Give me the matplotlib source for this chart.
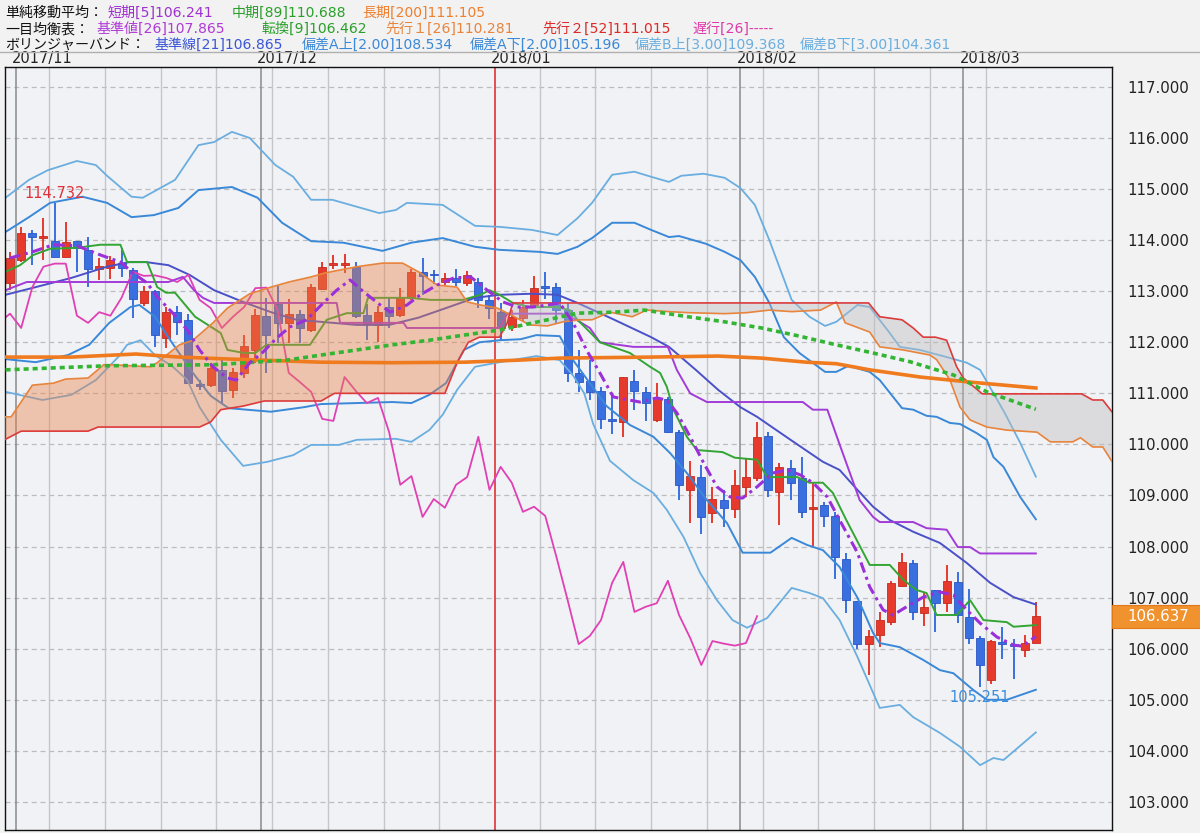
import numpy as np
import matplotlib
matplotlib.use('Agg')
import matplotlib.pyplot as plt
import matplotlib.transforms as mtransforms
from matplotlib.patches import Rectangle

plt.rcParams['font.family'] = ['Noto Sans CJK JP', 'DejaVu Sans']

# ---- daily candles, index 0 = 2017/10/31 ... index 92 = 2018/03/09
opens = [113.16, 113.61, 114.14, 114.05, 113.98, 113.67, 113.98, 113.81, 113.44, 113.46,
         113.55, 113.42, 112.77, 113.00, 112.09, 112.59, 112.44, 111.18, 111.16, 111.46,
         111.07, 111.40, 111.85, 112.52, 112.75, 112.38, 112.56, 112.24, 113.04, 113.51,
         113.51, 113.48, 112.54, 112.34, 112.69, 112.54, 112.87, 113.38, 113.33, 113.18,
         113.26, 113.16, 113.18, 112.83, 112.59, 112.30, 112.48, 112.73, 113.09, 113.08,
         112.63, 111.40, 111.24, 111.05, 110.50, 110.44, 111.24, 111.03, 110.48, 110.89,
         110.24, 109.11, 109.36, 108.66, 108.91, 108.74, 109.17, 109.34, 110.17, 109.07,
         109.54, 109.34, 108.74, 108.81, 108.60, 107.76, 106.93, 106.09, 106.27, 106.52,
         107.23, 107.68, 106.70, 107.15, 106.89, 107.31, 106.62, 106.21, 105.39, 106.12,
         106.09, 105.97, 106.11]
highs = [113.77, 114.26, 114.20, 114.43, 114.732, 114.36, 113.98, 114.06, 113.65, 113.69,
         113.85, 113.46, 113.10, 113.02, 112.69, 112.71, 112.55, 111.26, 111.60, 111.65,
         111.50, 112.14, 112.65, 112.87, 113.10, 112.85, 112.63, 113.14, 113.57, 113.71,
         113.73, 113.57, 112.75, 112.71, 112.87, 113.06, 113.44, 113.65, 113.42, 113.36,
         113.44, 113.40, 113.26, 112.93, 112.77, 112.63, 112.83, 113.30, 113.38, 113.16,
         112.77, 111.85, 111.65, 111.13, 111.00, 111.32, 111.46, 111.13, 111.20, 110.93,
         110.28, 109.68, 109.60, 109.17, 109.11, 109.50, 109.72, 110.44, 110.24, 109.64,
         109.70, 109.76, 109.27, 108.87, 108.68, 107.87, 106.94, 106.37, 106.72, 107.33,
         107.87, 107.74, 107.09, 107.15, 107.64, 107.50, 107.17, 106.25, 106.17, 106.43,
         106.19, 106.27, 106.92]
lows = [113.03, 113.57, 113.51, 113.61, 113.67, 113.67, 113.38, 113.08, 113.22, 113.24,
        113.28, 112.48, 112.71, 111.91, 111.89, 112.14, 111.18, 111.07, 111.13, 110.81,
        110.91, 111.30, 111.60, 111.40, 111.99, 111.99, 111.99, 112.20, 113.02, 113.44,
        113.36, 112.48, 112.04, 112.00, 112.28, 112.50, 112.83, 112.93, 113.14, 113.12,
        113.10, 113.10, 112.67, 112.46, 112.04, 112.22, 112.40, 112.71, 112.85, 112.38,
        111.22, 111.03, 110.87, 110.30, 110.20, 110.15, 110.68, 110.46, 110.44, 110.22,
        108.91, 108.46, 108.25, 108.46, 108.38, 108.56, 108.97, 109.28, 108.97, 108.42,
        108.91, 108.56, 108.00, 108.38, 107.37, 106.70, 106.00, 105.49, 106.03, 106.46,
        107.21, 106.56, 106.45, 106.33, 106.72, 106.50, 106.09, 105.251, 105.31, 105.80,
        105.41, 105.84, 106.11]
closes = [113.65, 114.14, 114.06, 114.07, 113.67, 113.96, 113.84, 113.44, 113.49, 113.61,
          113.46, 112.85, 113.00, 112.14, 112.59, 112.40, 111.20, 111.15, 111.50, 111.05,
          111.42, 111.93, 112.54, 112.14, 112.38, 112.56, 112.28, 113.08, 113.48, 113.54,
          113.54, 112.52, 112.38, 112.59, 112.52, 112.87, 113.38, 113.30, 113.31, 113.26,
          113.18, 113.32, 112.83, 112.67, 112.28, 112.50, 112.69, 113.06, 113.07, 112.63,
          111.40, 111.22, 111.03, 110.50, 110.46, 111.32, 111.05, 110.81, 110.91, 110.24,
          109.21, 109.38, 108.58, 108.93, 108.76, 109.21, 109.36, 110.15, 109.11, 109.56,
          109.25, 108.68, 108.78, 108.60, 107.80, 106.96, 106.09, 106.25, 106.56, 107.29,
          107.70, 106.72, 106.82, 106.89, 107.33, 106.66, 106.21, 105.68, 106.15, 106.10,
          106.06, 106.11, 106.637]

month_labels = ['2017/11', '2017/12', '2018/01', '2018/02', '2018/03']
month_pos = [0.5, 22.5, 43.5, 65.5, 85.5]
week_pos = [3.5, 8.5, 13.5, 18.5, 23.5, 28.5, 33.5, 38.5, 47.5, 52.5, 57.5, 62.5,
            67.5, 72.5, 77.5, 82.5, 87.5]
price_ticks = [103, 104, 105, 106, 107, 108, 109, 110, 111, 112, 113, 114, 115, 116, 117]
chikou_shift = 25

# ---- indicator lines (x = candle index)
sma5_x = [0, 2, 3.9, 6, 8.1, 9.9, 11, 12.3, 13.2, 14.6, 15.9, 17, 18.2, 19.5, 20.3, 21.5,
          22.7, 23.9, 25.1, 26.6, 28.1, 29.3, 30.5, 31.7, 33.2, 34.1, 35.6, 36.8, 38.3,
          39.8, 41.3, 42.8, 44.2, 45.5, 46.9, 48.2, 49.3, 50.5, 51.7, 52.9, 54.1, 55,
          56.5, 58, 58.9, 59.8, 61, 62.2, 63.4, 64.6, 65.7, 67, 68.4, 69.7, 70.9, 72,
          73.3, 74.4, 76, 77.1, 78.3, 79.2, 80.4, 81.9, 83.4, 84.6, 85.8, 87, 88.5, 90,
          90.8, 92]
sma5_y = [113.65, 113.77, 113.91, 113.89, 113.71, 113.57, 113.36, 113.16, 112.89, 112.57,
          112.24, 111.85, 111.52, 111.30, 111.26, 111.60, 111.81, 112.08, 112.30, 112.44,
          112.77, 113.02, 113.22, 112.99, 112.73, 112.59, 112.73, 112.93, 113.12, 113.26,
          113.28, 113.02, 112.79, 112.69, 112.69, 112.73, 112.77, 112.38, 111.85, 111.40,
          110.93, 110.89, 110.83, 110.91, 110.87, 110.62, 110.15, 109.64, 109.17, 108.97,
          108.95, 109.17, 109.44, 109.50, 109.40, 109.25, 108.97, 108.52, 107.88, 107.21,
          106.76, 106.66, 106.82, 107.01, 107.11, 107.05, 106.76, 106.50, 106.23, 106.07,
          106.05, 106.241]

sma89_x = [-0.4, 8.7, 18.3, 24.8, 27.9, 31.1, 34.3, 37.6, 40.7, 43.9, 48.2, 50.9, 54.2,
           56.9, 60.8, 64.1, 67.4, 70.8, 74.1, 77.4, 80.7, 84.6, 87.6, 92]
sma89_y = [111.46, 111.54, 111.56, 111.65, 111.75, 111.85, 111.95, 112.04, 112.14, 112.24,
           112.44, 112.57, 112.59, 112.63, 112.50, 112.40, 112.28, 112.12, 111.95, 111.79,
           111.62, 111.36, 111.03, 110.688]

sma200_x = [-0.4, 5.5, 11.3, 15.2, 19.9, 27.9, 34.3, 40.7, 45.6, 49.3, 57.5, 63.5, 67.4,
            71.4, 74.1, 77.1, 81.6, 86.1, 92]
sma200_y = [111.71, 111.71, 111.77, 111.71, 111.67, 111.61, 111.60, 111.61, 111.65, 111.69,
            111.71, 111.73, 111.69, 111.61, 111.58, 111.46, 111.32, 111.22, 111.105]

kijun_x = [-0.4, 1.5, 14.2, 15.5, 16.5, 17.3, 18.3, 29.3, 29.6, 35.3, 35.6, 43.9, 44.6,
           49.5, 50.8, 52.0, 52.9, 55.9, 59.0, 59.8, 61.0, 62.5, 71.1, 72.0, 73.3, 74.4,
           76.2, 77.4, 78.0, 81.0, 82.2, 84.0, 85.0, 86.1, 87.0, 92]
kijun_y = [113.02, 113.18, 113.18, 113.28, 113.02, 112.87, 112.77, 112.77, 112.38, 112.38,
           112.28, 112.28, 112.56, 112.56, 112.44, 112.28, 112.00, 111.91, 111.91, 111.46,
           111.00, 110.83, 110.83, 110.68, 110.68, 110.00, 108.91, 108.58, 108.48, 108.48,
           108.36, 108.33, 107.99, 107.99, 107.865, 107.865]

tenkan_x = [-0.4, 0.9, 2.1, 3.6, 6.0, 8.1, 9.9, 10.5, 12.3, 13.2, 14.0, 14.8, 16.6, 18.9,
            19.5, 21.0, 22.0, 23.0, 26.9, 28.4, 30.2, 31.7, 32.1, 35.9, 37.7, 40.6, 42.2,
            43.0, 43.9, 45.1, 46.6, 49.0, 50.2, 50.9, 52.0, 52.9, 55.6, 57.4, 58.3, 58.9,
            59.5, 60.7, 61.6, 63.9, 65.0, 67.0, 67.9, 70.6, 71.7, 72.9, 73.8, 75.0, 77.1,
            78.9, 80.1, 81.3, 82.2, 83.1, 84.9, 86.1, 87.3, 89.4, 90.0, 92]
tenkan_y = [113.38, 113.51, 113.71, 113.83, 113.85, 113.91, 113.91, 113.57, 113.57, 113.08,
            112.97, 112.97, 112.50, 112.18, 111.85, 111.79, 111.79, 111.95, 111.95, 112.44,
            112.57, 112.57, 112.87, 112.87, 112.83, 112.83, 112.93, 113.02, 112.93, 112.77,
            112.69, 112.69, 112.63, 112.44, 112.20, 112.00, 111.79, 111.52, 111.40, 111.13,
            110.68, 110.15, 109.89, 109.85, 109.74, 109.70, 109.36, 109.36, 109.25, 109.25,
            109.05, 108.52, 107.64, 107.64, 107.35, 107.15, 107.09, 106.66, 106.66, 106.95,
            106.56, 106.52, 106.43, 106.462]

spanA_x = [-0.5, 0.1, 2.0, 3.9, 5.0, 7.0, 8.4, 9.1, 12.6, 13.2, 13.8, 15.2, 16.4, 18.2,
           19.5, 21.5, 23.4, 25.0, 27.0, 28.3, 31.1, 33.4, 35.2, 36.8, 38.3, 40.1, 41.0,
           42.2, 43.7, 44.8, 46.6, 48.2, 49.6, 51.1, 52.2, 53.8, 55.8, 57.1, 59.1, 60.8,
           64.1, 66.1, 68.1, 70.1, 72.7, 74.1, 74.9, 77.1, 78.0, 80.1, 82.5, 83.1, 84.3,
           85.2, 86.1, 87.6, 89.4, 92.1, 93.3, 95.3, 96.0, 97.1, 98.0, 99.6]
spanA_y = [110.54, 110.54, 111.16, 111.20, 111.28, 111.30, 111.56, 111.56, 111.52, 111.60,
           111.71, 111.95, 112.04, 112.38, 112.67, 112.95, 113.08, 113.18, 113.28, 113.36,
           113.48, 113.55, 113.55, 113.36, 113.12, 113.08, 112.79, 112.73, 112.67, 112.55,
           112.34, 112.32, 112.40, 112.44, 112.44, 112.59, 112.50, 112.63, 112.60, 112.58,
           112.56, 112.58, 112.63, 112.60, 112.63, 112.79, 112.38, 112.20, 111.91, 111.85,
           111.75, 111.66, 111.26, 110.73, 110.48, 110.34, 110.28, 110.24, 110.05, 110.05,
           110.13, 109.95, 109.95, 109.40]

spanB_x = [-0.5, 1.0, 7.0, 7.9, 17.0, 18.0, 18.9, 20.9, 22.8, 27.9, 29.1, 39.0, 40.1, 41.1,
           42.1, 43.9, 44.6, 44.8, 45.1, 77.0, 78.0, 80.0, 81.0, 81.9, 83.0, 84.0, 84.9,
           85.5, 87.2, 96.1, 97.1, 98.0, 99.6]
spanB_y = [110.09, 110.26, 110.26, 110.34, 110.34, 110.44, 110.68, 110.75, 110.85, 110.85,
           111.00, 111.00, 111.60, 112.00, 112.10, 112.10, 112.38, 112.55, 112.77, 112.77,
           112.50, 112.44, 112.28, 112.10, 112.10, 112.04, 111.52, 111.30, 110.99, 110.99,
           110.87, 110.87, 110.42]
cloud_cross = 44.8

bb_mid_x = [-0.4, 2.3, 5.5, 8.7, 10.7, 12.2, 14.2, 16.1, 18.3, 20.9, 23.4, 25.7, 27.9, 31.1,
            34.0, 36.6, 39.1, 41.7, 43.9, 46.8, 49.1, 50.9, 54.2, 57.5, 59.1, 61.5, 63.5,
            65.5, 67.0, 70.0, 72.9, 74.4, 76.0, 77.4, 78.9, 81.0, 83.4, 85.8, 87.9, 90.0, 92]
bb_mid_y = [112.93, 113.08, 113.26, 113.48, 113.57, 113.57, 113.51, 113.32, 113.02, 112.79,
            112.59, 112.44, 112.40, 112.34, 112.34, 112.48, 112.67, 112.87, 112.93, 112.95,
            112.93, 112.77, 112.44, 112.10, 111.91, 111.46, 111.07, 110.73, 110.54, 110.09,
            109.66, 109.50, 109.11, 108.78, 108.52, 108.29, 108.07, 107.68, 107.29, 107.01,
            106.865]

bb_up2_x = [-0.4, 1.7, 3.6, 6.5, 8.7, 10.9, 12.9, 15.1, 16.9, 19.9, 22.2, 24.4, 27.0, 29.9,
            33.4, 36.0, 38.8, 41.7, 43.9, 47.5, 49.1, 50.9, 52.2, 54.0, 56.0, 57.5, 59.1,
            60.0, 62.4, 64.1, 65.5, 66.8, 68.1, 69.4, 70.8, 73.1, 74.1, 75.2, 77.1, 78.0,
            80.0, 81.0, 82.2, 83.1, 84.3, 85.2, 86.7, 87.6, 88.2, 89.1, 90.6, 92]
bb_up2_y = [114.16, 114.45, 114.73, 114.85, 114.73, 114.45, 114.49, 114.63, 114.98, 115.04,
            114.83, 114.34, 113.98, 113.95, 113.79, 113.95, 114.04, 113.87, 113.81, 113.77,
            113.73, 113.87, 114.04, 114.34, 114.34, 114.20, 114.06, 114.08, 113.93, 113.77,
            113.61, 113.28, 112.77, 112.10, 111.79, 111.42, 111.42, 111.54, 111.42, 111.26,
            110.71, 110.68, 110.56, 110.54, 110.42, 110.40, 110.22, 110.09, 109.75, 109.56,
            108.97, 108.534]

bb_up3_x = [-0.4, 1.7, 3.4, 6.0, 7.7, 8.7, 10.9, 11.9, 14.8, 16.9, 18.3, 19.9, 21.5, 23.8,
            25.4, 27.0, 28.9, 33.1, 34.6, 35.6, 38.8, 41.7, 43.9, 46.8, 49.1, 50.9, 52.2,
            54.0, 56.0, 57.5, 59.1, 60.2, 62.2, 64.1, 65.5, 66.8, 68.1, 70.1, 71.7, 73.1,
            74.1, 76.0, 77.1, 78.9, 79.8, 81.6, 84.0, 85.8, 87.0, 88.2, 89.2, 90.6, 92]
bb_up3_y = [114.83, 115.18, 115.37, 115.55, 115.47, 115.26, 114.85, 114.83, 115.18, 115.86,
            115.92, 116.12, 116.00, 115.47, 115.24, 114.79, 114.79, 114.53, 114.59, 114.73,
            114.69, 114.28, 114.26, 114.20, 114.10, 114.43, 114.73, 115.28, 115.34, 115.24,
            115.14, 115.26, 115.30, 115.22, 115.02, 114.69, 114.00, 112.83, 112.50, 112.32,
            112.40, 112.73, 112.69, 112.18, 111.91, 111.85, 111.71, 111.60, 111.46, 111.00,
            110.62, 110.03, 109.368]

bb_dn2_x = [-0.4, 2.3, 5.2, 7.1, 8.9, 10.8, 11.6, 13.0, 14.5, 16.4, 18.0, 19.6, 23.4, 26.4,
            27.9, 31.1, 34.3, 36.0, 37.6, 39.1, 40.7, 42.1, 43.9, 45.8, 47.2, 49.3, 50.5,
            52.0, 53.5, 55.6, 57.7, 59.2, 60.7, 62.5, 64.3, 65.7, 67.3, 68.2, 70.1, 71.5,
            72.9, 74.4, 76.0, 77.4, 78.0, 79.8, 81.9, 83.4, 84.6, 86.4, 87.6, 89.4, 92]
bb_dn2_y = [111.67, 111.61, 111.75, 111.95, 112.38, 112.69, 112.73, 112.50, 112.00, 111.40,
            110.95, 110.71, 110.64, 110.73, 110.79, 110.81, 110.83, 110.81, 110.97, 111.20,
            111.85, 112.00, 112.04, 112.06, 112.14, 112.12, 111.65, 111.20, 110.75, 110.38,
            110.15, 109.83, 109.44, 108.91, 108.46, 107.88, 107.88, 107.88, 108.17, 108.03,
            107.93, 107.60, 107.00, 106.31, 106.11, 106.03, 105.78, 105.58, 105.52, 105.19,
            105.00, 105.00, 105.196]

bb_dn3_x = [-0.4, 2.9, 5.5, 7.7, 9.7, 10.5, 11.7, 13.0, 14.6, 15.9, 17.0, 18.9, 20.9, 23.1,
            25.4, 27.0, 29.5, 31.1, 34.6, 36.0, 37.6, 38.8, 40.1, 41.7, 43.9, 47.2, 49.3,
            50.5, 51.5, 52.3, 53.8, 55.9, 57.7, 58.9, 60.4, 61.9, 63.4, 64.8, 66.1, 67.9,
            70.1, 71.7, 72.9, 74.4, 76.0, 78.0, 79.8, 81.0, 83.4, 85.2, 87.0, 88.2, 89.1, 92]
bb_dn3_y = [111.03, 110.87, 110.97, 111.26, 111.71, 111.95, 112.04, 111.75, 111.52, 111.26,
            110.73, 110.09, 109.58, 109.66, 109.79, 109.99, 109.99, 110.09, 110.11, 110.05,
            110.28, 110.58, 111.07, 111.52, 111.61, 111.73, 111.65, 111.35, 111.00, 110.40,
            109.68, 109.30, 109.05, 108.72, 108.19, 107.48, 106.95, 106.56, 106.41, 106.60,
            107.19, 107.09, 106.99, 106.56, 105.84, 104.84, 104.90, 104.66, 104.35, 104.08,
            103.72, 103.86, 103.82, 104.361]

header_rows = [
    [(5, '単純移動平均：', '#111111'), (108, '短期[5]106.241', '#a030d0'),
     (232, '中期[89]110.688', '#2aa02a'), (362, '長期[200]111.105', '#ee8030')],
    [(5, '一目均衡表：', '#111111'), (97, '基準値[26]107.865', '#b03ad6'),
     (262, '転換[9]106.462', '#2aa02a'), (385, '先行１[26]110.281', '#e8843c'),
     (542, '先行２[52]111.015', '#dd2a2a'), (692, '遅行[26]-----', '#dd3aaa')],
    [(5, 'ボリンジャーバンド：', '#111111'), (155, '基準線[21]106.865', '#3a55d8'),
     (302, '偏差A上[2.00]108.534', '#3a88d8'), (470, '偏差A下[2.00]105.196', '#3a88d8'),
     (635, '偏差B上[3.00]109.368', '#6aaee0'), (800, '偏差B下[3.00]104.361', '#6aaee0')],
]

RED = '#e63a2c'
BLUE = '#3a6fe0'

W, H = 1200, 833
fig = plt.figure(figsize=(W / 100, H / 100), dpi=100, facecolor='#f2f2f2')
ax = fig.add_axes([5 / W, 3 / H, 1107 / W, 763 / H])
ax.set_facecolor('#f1f2f6')
ax.set_xlim(-0.45, 98.83)
ax.set_ylim(102.45, 117.39)

# grid
for p in price_ticks:
    ax.axhline(p, color='#bcbcbc', lw=0.9, ls=(0, (4, 3)), zorder=0.5)
for wp in week_pos:
    ax.axvline(wp, color='#c6c6ca', lw=1.0, zorder=0.6)
for mp, ml in zip(month_pos, month_labels):
    ax.axvline(mp, color='#dd2222' if ml.endswith('/01') else '#8a8a8a', lw=1.1, zorder=0.7)

# candles
o = np.array(opens)
c = np.array(closes)
h = np.array(highs)
l = np.array(lows)
idx = np.arange(len(c))
cols = np.where(c >= o, RED, BLUE)
edges = np.where(c >= o, '#c42a1e', '#2a56c4')
ax.vlines(idx, l, h, colors=cols, lw=1.4, zorder=2)
ax.bar(idx, np.maximum(np.abs(c - o), 0.035), bottom=np.minimum(o, c), width=0.72,
       color=cols, edgecolor=edges, lw=0.6, zorder=2.1)

# lines under the cloud
ax.plot(bb_up3_x, bb_up3_y, color='#6aaee0', lw=1.3, zorder=2.3)
ax.plot(bb_dn3_x, bb_dn3_y, color='#6aaee0', lw=1.3, zorder=2.3)
ax.plot(bb_up2_x, bb_up2_y, color='#3a88d8', lw=1.4, zorder=2.3)
ax.plot(bb_dn2_x, bb_dn2_y, color='#3a88d8', lw=1.4, zorder=2.3)
ax.plot(bb_mid_x, bb_mid_y, color='#4a50c8', lw=1.4, zorder=2.3)
ax.plot(idx - chikou_shift, c, color='#e040b4', lw=1.3, zorder=2.3)
ax.plot(kijun_x, kijun_y, color='#a23bd8', lw=1.4, zorder=2.4)
ax.plot(tenkan_x, tenkan_y, color='#33a533', lw=1.4, zorder=2.4)

# cloud
ax_ = np.array(spanA_x)
ay_ = np.array(spanA_y)
bx_ = np.array(spanB_x)
by_ = np.array(spanB_y)
ma, mb = ax_ <= cloud_cross, bx_ <= cloud_cross
ax.fill(np.r_[ax_[ma], bx_[mb][::-1]], np.r_[ay_[ma], by_[mb][::-1]],
        color='#e8834a', alpha=0.42, lw=0, zorder=3)
ma, mb = ax_ >= cloud_cross, bx_ >= cloud_cross
ax.fill(np.r_[ax_[ma], bx_[mb][::-1]], np.r_[ay_[ma], by_[mb][::-1]],
        color='#bdbdbd', alpha=0.42, lw=0, zorder=3)
ax.plot(spanA_x, spanA_y, color='#e8843c', lw=1.2, zorder=3.2)
ax.plot(spanB_x, spanB_y, color='#dd3a3a', lw=1.2, zorder=3.2)

# moving averages on top
ax.plot(sma200_x, sma200_y, color='#f07a1e', lw=2.6, zorder=4)
ax.plot(sma89_x, sma89_y, color='#33b533', lw=2.6, ls=(0, (1.4, 1.1)), zorder=4)
ax.plot(sma5_x, sma5_y, color='#9b30d9', lw=2.2, ls=(0, (3.5, 1.5, 1, 1.5)), zorder=4.1)

# high / low labels
ih, il = int(np.argmax(h)), int(np.argmin(l))
ax.annotate(f'{h[ih]:.3f}', xy=(ih, h[ih]), xytext=(0, 1), textcoords='offset points',
            ha='center', va='bottom', color='#e0303a', fontsize=10.5, family='DejaVu Sans',
            zorder=5)
ax.annotate(f'{l[il]:.3f}', xy=(il, l[il]), xytext=(0, -2), textcoords='offset points',
            ha='center', va='top', color='#3a8ee0', fontsize=10.5, family='DejaVu Sans',
            zorder=5)

# axes styling
ax.set_xticks([])
ax.yaxis.tick_right()
ax.set_yticks(price_ticks)
ax.set_yticklabels([f'{p:.3f}' for p in price_ticks])
ax.tick_params(axis='y', length=0, pad=11, labelsize=10.8, labelcolor='#222222')
for lbl in ax.get_yticklabels():
    lbl.set_family('DejaVu Sans')
for s in ax.spines.values():
    s.set_color('#111111')
    s.set_linewidth(1.0)

# last price box
tr = mtransforms.blended_transform_factory(ax.transAxes, ax.transData)
box_h = 23 / 51.07
ax.add_patch(Rectangle((1.0, c[-1] - box_h / 2), 90 / 1107, box_h, transform=tr,
                       facecolor='#f0922e', edgecolor='#e07a18', lw=0.8, clip_on=False,
                       zorder=6))
ax.text(1.0 + 15 / 1107, c[-1], f'{c[-1]:.3f}', transform=tr, ha='left', va='center',
        color='white', fontsize=10.8, family='DejaVu Sans', clip_on=False, zorder=7)

# month labels above the plot
trm = mtransforms.blended_transform_factory(ax.transData, ax.transAxes)
for mp, ml in zip(month_pos, month_labels):
    ax.text(mp - 0.35, 1 + 8 / 763, ml, transform=trm, ha='left', va='center',
            fontsize=10.5, color='#222222', family='DejaVu Sans')

# header legend
for row, ypx in zip(header_rows, [13, 29, 45]):
    for xpx, txt, col in row:
        fig.text(xpx / W, 1 - ypx / H, txt, ha='left', va='center', fontsize=10.1,
                 color=col, family=['DejaVu Sans', 'Noto Sans CJK JP'])
fig.add_artist(plt.Line2D([0, 1], [1 - 52 / H, 1 - 52 / H], color='#b0b0b0', lw=1.0))

fig.savefig('out.png', dpi=100, facecolor=fig.get_facecolor())
